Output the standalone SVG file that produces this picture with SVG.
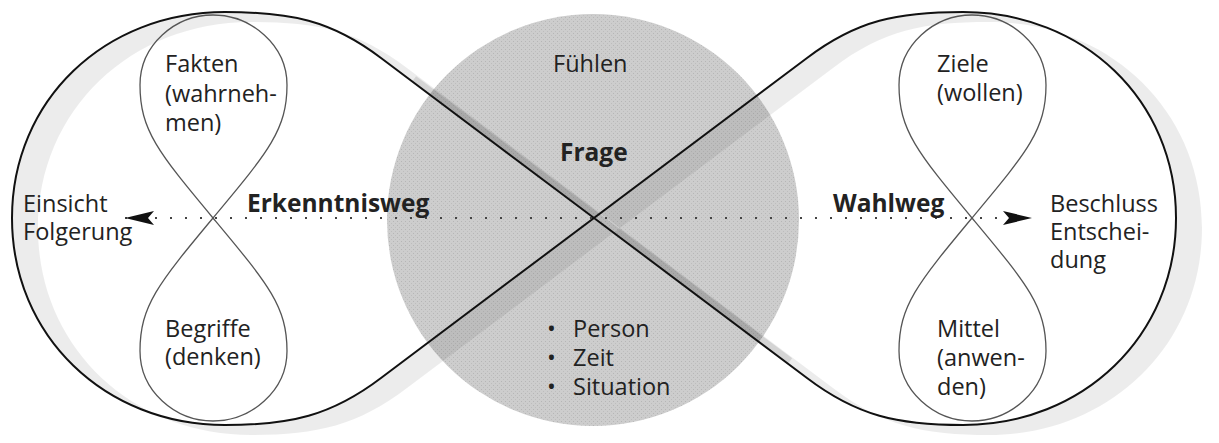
<svg xmlns="http://www.w3.org/2000/svg" width="1219" height="443" viewBox="0 0 1219 443">
<style>
text{font-family:"Open Sans","Noto Sans","Liberation Sans",sans-serif;font-size:23.5px;fill:#222}
.b{font-weight:bold;font-size:24.5px}
.small{fill:none;stroke:#555;stroke-width:1.3}
.big{fill:none;stroke:#111;stroke-width:2}
.band{fill:#000;fill-opacity:0.075;fill-rule:evenodd}
.fold{fill:none;stroke:#000;stroke-opacity:0.1;stroke-width:7}
.path{fill:none;stroke:#444;stroke-width:2;stroke-dasharray:2 13}
</style>
<defs>
<marker id="arr" markerUnits="userSpaceOnUse" viewBox="-30 -8 31 16" markerWidth="31" markerHeight="16" refX="0" refY="0" orient="auto-start-reverse">
<path d="M0,0 L-29,-7 L-23,0 L-29,7 Z" fill="#111"/>
</marker>
<pattern id="stip" width="4" height="4" patternUnits="userSpaceOnUse">
<rect width="4" height="4" fill="#cdcdcd"/>
<rect x="1" y="1" width="1" height="1" fill="#b6b6b6"/>
<rect x="3" y="3" width="1" height="1" fill="#bdbdbd"/>
</pattern>
</defs>
<rect width="1219" height="443" fill="#fff"/>
<g id="feeling">
<circle cx="593" cy="220" r="206" fill="url(#stip)"/>
</g>
<g id="ribbon">
<path class="band" d="M594,218 L381,58 C331,20 290,12 225,12 C105,12 12,100 12,218 C12,336 105,425 225,425 C290,425 331,416 381,378 L807,58 C857,20 898,12 963,12 C1083,12 1176,100 1176,218 C1176,336 1083,425 963,425 C898,425 857,416 807,378 Z M620,228 L407,68 C357,30 316,22 251,22 C131,22 38,110 38,228 C38,346 131,435 251,435 C316,435 357,426 407,388 L833,68 C883,30 924,22 989,22 C1109,22 1202,110 1202,228 C1202,346 1109,435 989,435 C924,435 883,426 833,388 Z"/>
<line class="fold" x1="414" y1="79" x2="790" y2="361"/>
<path class="big" d="M594,218 L381,58 C331,20 290,12 225,12 C105,12 12,100 12,218 C12,336 105,425 225,425 C290,425 331,416 381,378 L807,58 C857,20 898,12 963,12 C1083,12 1176,100 1176,218 C1176,336 1083,425 963,425 C898,425 857,416 807,378 Z"/>
</g>
<g id="erkenntnis-loop">
<path class="small" d="M213,218 C158,152 140,130 140,85 C140,45 175,15 213,15 C251,15 287,45 287,85 C287,130 268,152 213,218 C158,284 140,306 140,351 C140,391 175,421 213,421 C251,421 287,391 287,351 C287,306 268,284 213,218 Z"/>
<text x="165" y="72">Fakten</text>
<text x="165" y="102">(wahrneh-</text>
<text x="165" y="131">men)</text>
<text x="165" y="337">Begriffe</text>
<text x="165" y="365">(denken)</text>
</g>
<g id="wahl-loop">
<path class="small" d="M972,218 C917,152 899,130 899,85 C899,45 934,15 972,15 C1010,15 1046,45 1046,85 C1046,130 1027,152 972,218 C917,284 899,306 899,351 C899,391 934,421 972,421 C1010,421 1046,391 1046,351 C1046,306 1027,284 972,218 Z"/>
<text x="937" y="72">Ziele</text>
<text x="937" y="101">(wollen)</text>
<text x="937" y="337">Mittel</text>
<text x="937" y="366">(anwen-</text>
<text x="937" y="395">den)</text>
</g>
<g id="connectors">
<line class="path" x1="125" y1="218" x2="1032" y2="218" marker-start="url(#arr)" marker-end="url(#arr)"/>
</g>
<g id="einsicht">
<text x="23" y="212">Einsicht</text>
<text x="23" y="240">Folgerung</text>
</g>
<g id="erkenntnisweg">
<text class="b" x="247" y="212">Erkenntnisweg</text>
</g>
<g id="center-labels">
<text x="553" y="72">Fühlen</text>
<text class="b" x="560" y="161">Frage</text>
<text x="547" y="337">•</text><text x="573" y="337">Person</text>
<text x="547" y="366">•</text><text x="573" y="366">Zeit</text>
<text x="547" y="395">•</text><text x="573" y="395">Situation</text>
</g>
<g id="wahlweg">
<text class="b" x="833" y="212">Wahlweg</text>
</g>
<g id="beschluss">
<text x="1050" y="212">Beschluss</text>
<text x="1050" y="240">Entschei-</text>
<text x="1050" y="268">dung</text>
</g>
</svg>
